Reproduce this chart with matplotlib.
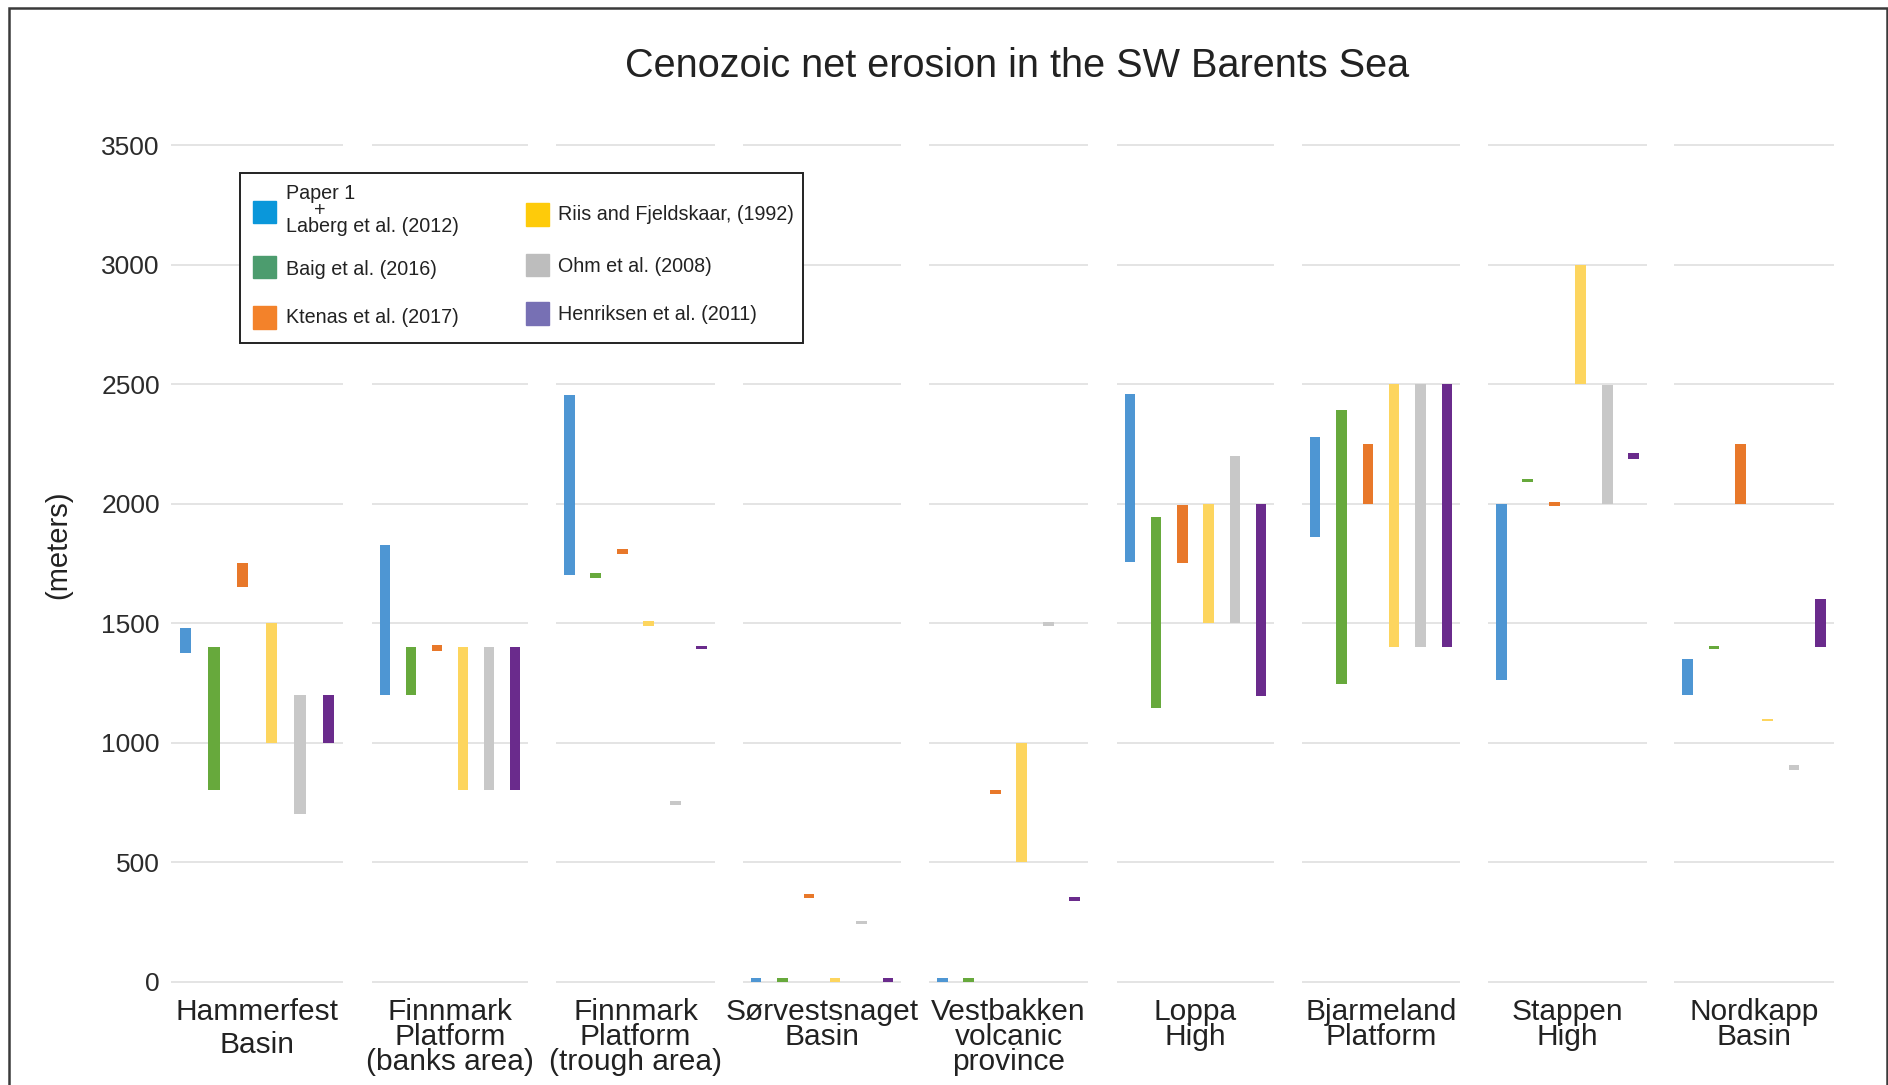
import matplotlib.pyplot as plt
from matplotlib.patches import Rectangle

plt.rcParams['font.family'] = ['Liberation Sans', 'DejaVu Sans']

# basins (x categories)
categories = ["Hammerfest\nBasin", "Finnmark\nPlatform\n(banks area)",
              "Finnmark\nPlatform\n(trough area)", "Sørvestsnaget\nBasin",
              "Vestbakken\nvolcanic\nprovince", "Loppa\nHigh", "Bjarmeland\nPlatform",
              "Stappen\nHigh", "Nordkapp\nBasin"]

# net erosion ranges (m), low / high per basin
paper1_lo = [1375, 1200, 1700, 0, 0, 1755, 1860, 1260, 1200]
paper1_hi = [1480, 1825, 2455, 15, 15, 2460, 2280, 2000, 1350]
baig_lo = [800, 1200, 1690, 0, 0, 1145, 1245, 2090, 1390]
baig_hi = [1400, 1400, 1710, 15, 15, 1945, 2390, 2105, 1405]
ktenas_lo = [1650, 1385, 1790, 350, 785, 1750, 2000, 1990, 2000]
ktenas_hi = [1750, 1410, 1810, 365, 800, 1995, 2250, 2005, 2250]
riis_lo = [1000, 800, 1490, 0, 500, 1500, 1400, 2500, 1090]
riis_hi = [1500, 1400, 1510, 15, 1000, 2000, 2500, 3000, 1100]
ohm_lo = [700, 800, 740, 240, 1490, 1500, 1400, 2000, 885]
ohm_hi = [1200, 1400, 755, 255, 1505, 2200, 2500, 2495, 905]
henriksen_lo = [1000, 800, 1390, 0, 338, 1195, 1400, 2185, 1400]
henriksen_hi = [1200, 1400, 1405, 15, 352, 2000, 2500, 2210, 1600]

yticks = [0, 500, 1000, 1500, 2000, 2500, 3000, 3500]

series = [(paper1_lo, paper1_hi), (baig_lo, baig_hi), (ktenas_lo, ktenas_hi),
          (riis_lo, riis_hi), (ohm_lo, ohm_hi), (henriksen_lo, henriksen_hi)]
bar_colors = ['#4e96d3', '#67a93c', '#e8782a', '#fdd55e', '#c8c8c8', '#6a2b8c']
leg_colors = ['#0a97da', '#4c9c6e', '#f3822a', '#fecb0a', '#bdbdbd', '#7770b4']

W, H = 1888, 1085
def fx(px):
    return px / W
def fy(py):
    return 1 - py / H

fig = plt.figure(figsize=(W / 100, H / 100), dpi=100)
fig.patch.set_facecolor('white')

# frame around the figure
fig.patches.append(Rectangle((fx(9), fy(1200)), fx(1886.5) - fx(9), fy(7.5) - fy(1200),
                             transform=fig.transFigure, fill=False, ec='#3a3a3a', lw=1.8))

fig.text(fx(1017), fy(66), "Cenozoic net erosion in the SW Barents Sea",
         ha='center', va='center', fontsize=28.5, color='#222222')
fig.text(fx(58), fy(545), "(meters)", rotation=90, ha='center', va='center',
         fontsize=21, color='#222222')

group_px = [(171, 343), (372, 528), (556, 715), (743, 901), (929, 1088),
            (1117, 1274), (1302, 1460), (1488, 1647), (1674, 1834)]
ax_bot, ax_top = 986.3, 140.5

for i, cat in enumerate(categories):
    x0, x1 = group_px[i]
    ax = fig.add_axes([fx(x0), fy(ax_bot), (x1 - x0) / W, (ax_bot - ax_top) / H])
    ax.patch.set_alpha(0)
    for j, (lo, hi) in enumerate(series):
        ax.bar(j, hi[i] - lo[i], bottom=lo[i], width=0.4, color=bar_colors[j], zorder=3)
    ax.set_xlim(-0.5, 5.5)
    ax.set_ylim(-20, 3520)
    ax.set_yticks(yticks)
    ax.set_xticks([])
    ax.grid(axis='y', color='#e2e2e2', lw=1.3)
    ax.set_axisbelow(True)
    for s in ax.spines.values():
        s.set_visible(False)
    ax.tick_params(axis='y', length=0, labelsize=19, labelcolor='#2b2b2b', pad=8,
                   labelleft=(i == 0))
    ax.annotate(cat, xy=(0.5, 0), xycoords='axes fraction', xytext=(0, -8.5),
                textcoords='offset points', ha='center', va='top', fontsize=21.5,
                color='#222222', linespacing=1.2 if i == 0 else 0.86)

# legend, drawn by hand so rows line up across the two columns
fig.patches.append(Rectangle((fx(240), fy(343)), fx(802.5) - fx(240), fy(173) - fy(343),
                             transform=fig.transFigure, fill=True, fc='white',
                             ec='#222222', lw=1.4, zorder=5))
patch_y = [212, 267, 317.4, 214.5, 265, 313.4]
patch_x = [253, 253, 253, 525.6, 525.6, 525.6]
for k in range(6):
    fig.patches.append(Rectangle((fx(patch_x[k]), fy(patch_y[k] + 11.3)), 23 / W, 22.6 / H,
                                 transform=fig.transFigure, color=leg_colors[k], zorder=6))
lkw = dict(fontsize=14.2, color='#222222', va='center', zorder=7)
fig.text(fx(286), fy(193.3), "Paper 1", **lkw)
fig.text(fx(319.5), fy(210), "+", ha='center', **lkw)
fig.text(fx(286), fy(226.7), "Laberg et al. (2012)", **lkw)
fig.text(fx(286), fy(269.3), "Baig et al. (2016)", **lkw)
fig.text(fx(286), fy(317.7), "Ktenas et al. (2017)", **lkw)
fig.text(fx(557.7), fy(215), "Riis and Fjeldskaar, (1992)", **lkw)
fig.text(fx(557.7), fy(266.7), "Ohm et al. (2008)", **lkw)
fig.text(fx(557.7), fy(315), "Henriksen et al. (2011)", **lkw)

fig.savefig('out.png', dpi=100)
